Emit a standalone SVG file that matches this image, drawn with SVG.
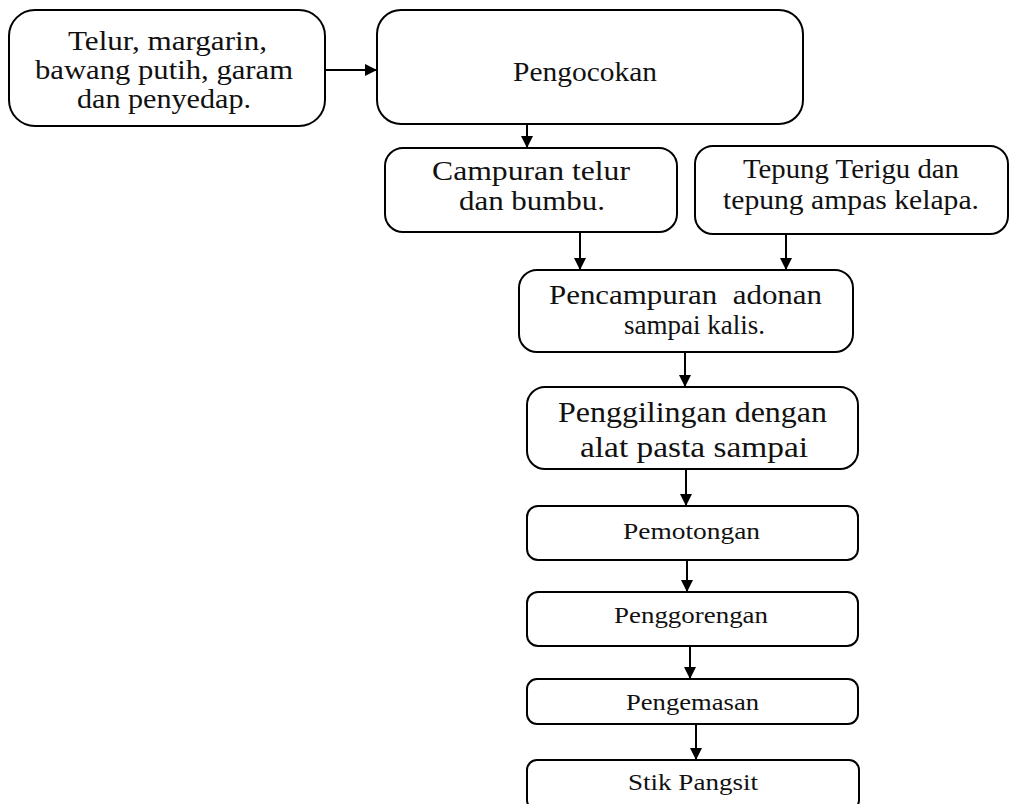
<svg xmlns="http://www.w3.org/2000/svg" width="1020" height="804" viewBox="0 0 1020 804">
<defs>
<style>
.box{fill:#fff;stroke:#000;stroke-width:2}
.t{fill:#111}
.c{stroke:#000;stroke-width:2;fill:none}
</style>
<marker id="ah" viewBox="0 0 12 12" refX="12" refY="6" markerWidth="12" markerHeight="12" markerUnits="userSpaceOnUse" orient="auto">
<path d="M0,0 L12,6 L0,12 Z" fill="#000"/>
</marker>
</defs>
<rect width="1020" height="804" fill="#fff"/>
<g id="connectors">
<line class="c" x1="325" y1="70" x2="377" y2="70" marker-end="url(#ah)"/>
<line class="c" x1="527" y1="124" x2="527" y2="148" marker-end="url(#ah)"/>
<line class="c" x1="580" y1="232" x2="580" y2="270" marker-end="url(#ah)"/>
<line class="c" x1="786" y1="234" x2="786" y2="270" marker-end="url(#ah)"/>
<line class="c" x1="685" y1="352" x2="685" y2="387" marker-end="url(#ah)"/>
<line class="c" x1="686" y1="469" x2="686" y2="506" marker-end="url(#ah)"/>
<line class="c" x1="687" y1="560" x2="687" y2="592" marker-end="url(#ah)"/>
<line class="c" x1="690" y1="646" x2="690" y2="679" marker-end="url(#ah)"/>
<line class="c" x1="696" y1="724" x2="696" y2="760" marker-end="url(#ah)"/>
</g>
<g font-family="Liberation Serif, Times New Roman, serif">
<g id="n1">
<rect class="box" x="9" y="10" width="316" height="116" rx="26"/>
<text class="t" font-size="27" x="68" y="50" textLength="199" lengthAdjust="spacingAndGlyphs">Telur, margarin,</text>
<text class="t" font-size="27" x="35" y="79" textLength="258" lengthAdjust="spacingAndGlyphs">bawang putih, garam</text>
<text class="t" font-size="27" x="77" y="108" textLength="174" lengthAdjust="spacingAndGlyphs">dan penyedap.</text>
</g>
<g id="n2">
<rect class="box" x="377" y="10" width="426" height="114" rx="24"/>
<text class="t" font-size="27" x="513" y="81" textLength="144" lengthAdjust="spacingAndGlyphs">Pengocokan</text>
</g>
<g id="n3">
<rect class="box" x="385" y="148" width="292" height="84" rx="18"/>
<text class="t" font-size="27" x="432" y="180" textLength="198" lengthAdjust="spacingAndGlyphs">Campuran telur</text>
<text class="t" font-size="27" x="459" y="210" textLength="146" lengthAdjust="spacingAndGlyphs">dan bumbu.</text>
</g>
<g id="n4">
<rect class="box" x="695" y="146" width="313" height="88" rx="18"/>
<text class="t" font-size="27" x="743" y="178" textLength="216" lengthAdjust="spacingAndGlyphs">Tepung Terigu dan</text>
<text class="t" font-size="27" x="723" y="209" textLength="256" lengthAdjust="spacingAndGlyphs">tepung ampas kelapa.</text>
</g>
<g id="n5">
<rect class="box" x="519" y="270" width="334" height="82" rx="18"/>
<text class="t" font-size="27" x="549" y="304" textLength="273" lengthAdjust="spacingAndGlyphs" xml:space="preserve" style="white-space:pre">Pencampuran  adonan</text>
<text class="t" font-size="27" x="624" y="334" textLength="141" lengthAdjust="spacingAndGlyphs">sampai kalis.</text>
</g>
<g id="n6">
<rect class="box" x="527" y="387" width="331" height="82" rx="18"/>
<text class="t" font-size="29" x="558" y="422" textLength="269" lengthAdjust="spacingAndGlyphs">Penggilingan dengan</text>
<text class="t" font-size="29" x="580" y="457" textLength="228" lengthAdjust="spacingAndGlyphs">alat pasta sampai</text>
</g>
<g id="n7">
<rect class="box" x="527" y="506" width="331" height="54" rx="11"/>
<text class="t" font-size="23" x="623" y="539" textLength="137" lengthAdjust="spacingAndGlyphs">Pemotongan</text>
</g>
<g id="n8">
<rect class="box" x="527" y="592" width="331" height="54" rx="11"/>
<text class="t" font-size="23" x="614" y="623" textLength="154" lengthAdjust="spacingAndGlyphs">Penggorengan</text>
</g>
<g id="n9">
<rect class="box" x="527" y="679" width="331" height="45" rx="10"/>
<text class="t" font-size="23" x="626" y="710" textLength="133" lengthAdjust="spacingAndGlyphs">Pengemasan</text>
</g>
<g id="n10">
<rect class="box" x="527" y="760" width="332" height="50" rx="10"/>
<text class="t" font-size="23" x="628" y="790" textLength="130" lengthAdjust="spacingAndGlyphs">Stik Pangsit</text>
</g>
</g>
</svg>
